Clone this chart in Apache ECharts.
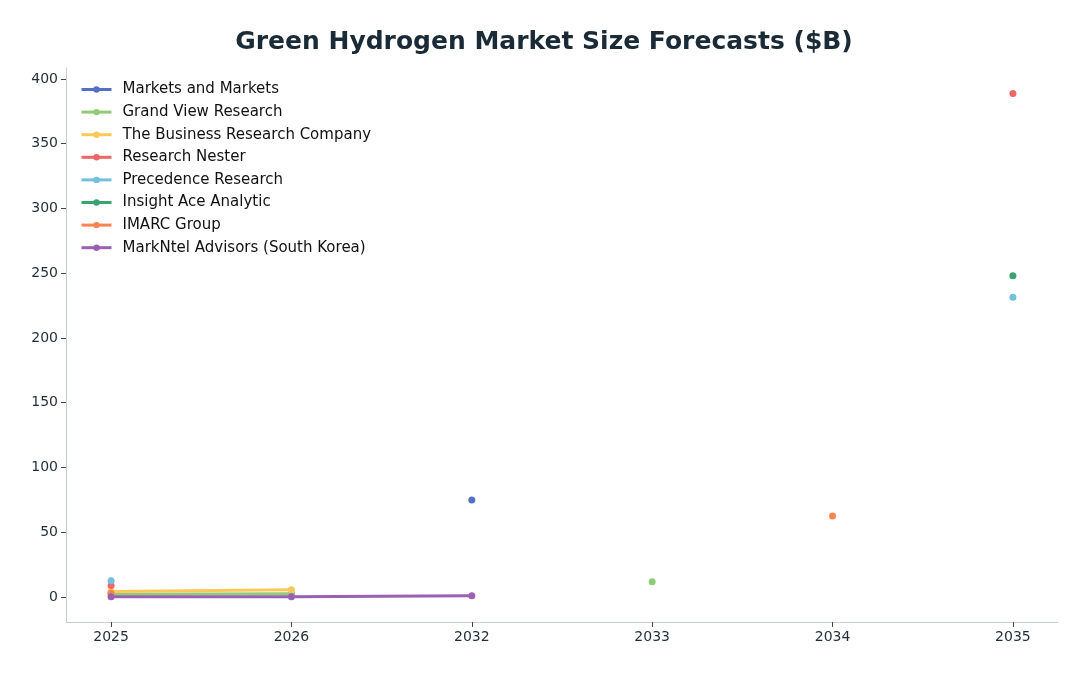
<!DOCTYPE html>
<html>
<head>
<meta charset="utf-8">
<script src="https://cdn.jsdelivr.net/npm/echarts@6/dist/echarts.min.js"></script>
<style>
  html, body { margin: 0; padding: 0; background: #fff; }
  #chart { width: 1088px; height: 676px; }
</style>
</head>
<body>
<div id="chart"></div>
<script>
// 年份（x 轴按序号排布）
var years = ['2025', '2026', '2032', '2033', '2034', '2035'];
var yTicks = [0, 50, 100, 150, 200, 250, 300, 350, 400];

// 各机构预测值（$B），null 表示无数据
var marketsAndMarkets = [null, null, 74.8, null, null, null];
var grandView = [2.0, 2.4, null, 11.6, null, null];
var businessResearch = [4.1, 5.5, null, null, null, null];
var researchNester = [8.8, null, null, null, null, 388.8];
var precedence = [12.5, null, null, null, null, 231.5];
var insightAce = [null, null, null, null, null, 248.0];
var imarc = [2.8, null, null, null, 62.5, null];
var markNtel = [0.1, 0.1, 0.9, null, null, null];

var seriesNames = [
  'Markets and Markets',
  'Grand View Research',
  'The Business Research Company',
  'Research Nester',
  'Precedence Research',
  'Insight Ace Analytic',
  'IMARC Group',
  'MarkNtel Advisors (South Korea)'
];
var seriesValues = [marketsAndMarkets, grandView, businessResearch, researchNester,
  precedence, insightAce, imarc, markNtel];
var colors = ['#5470c6', '#91cc75', '#fac858', '#ee6666', '#73c0de', '#3ba272', '#fc8452', '#9a60b4'];

var chart = echarts.init(document.getElementById('chart'));

function toPoints(values) {
  return values.map(function (v, i) { return [i, v]; });
}

var series = seriesNames.map(function (name, k) {
  return {
    name: name,
    type: 'line',
    data: toPoints(seriesValues[k]),
    connectNulls: false,
    symbol: 'circle',
    symbolSize: 7,
    showSymbol: true,
    lineStyle: { width: 3, color: colors[k] },
    itemStyle: { color: colors[k] },
    emphasis: { disabled: true },
    animation: false
  };
});

var option = {
  backgroundColor: '#ffffff',
  color: colors,
  title: {
    text: 'Green Hydrogen Market Size Forecasts ($B)',
    left: 'center',
    top: 25,
    textStyle: {
      fontFamily: 'DejaVu Sans',
      fontSize: 25,
      fontWeight: 'bold',
      color: '#1a2a36'
    }
  },
  legend: {
    orient: 'vertical',
    left: 80,
    top: 82,
    padding: 0,
    itemWidth: 30,
    itemHeight: 8,
    itemGap: 7.6,
    data: seriesNames,
    lineStyle: { width: 3 },
    textStyle: {
      fontFamily: 'DejaVu Sans',
      fontSize: 15,
      color: '#111',
      padding: [0, 0, 0, 6]
    }
  },
  grid: { left: 66, right: 30, top: 68, bottom: 54 },
  xAxis: {
    type: 'value',
    min: -0.25,
    max: 5.25,
    splitLine: { show: false },
    axisLine: { show: true, onZero: false, lineStyle: { color: '#c8cdd2', width: 1 } },
    axisTick: {
      show: true,
      customValues: [0, 1, 2, 3, 4, 5],
      length: 5,
      lineStyle: { color: '#444' }
    },
    axisLabel: {
      customValues: [0, 1, 2, 3, 4, 5],
      formatter: function (v) { return years[Math.round(v)]; },
      margin: 8,
      fontFamily: 'DejaVu Sans',
      fontSize: 14,
      color: '#1f2d3a'
    }
  },
  yAxis: {
    type: 'value',
    min: -19.4,
    max: 408.5,
    splitLine: { show: false },
    axisLine: { show: true, onZero: false, lineStyle: { color: '#c8cdd2', width: 1 } },
    axisTick: {
      show: true,
      customValues: yTicks,
      length: 5,
      lineStyle: { color: '#444' }
    },
    axisLabel: {
      customValues: yTicks,
      margin: 8,
      fontFamily: 'DejaVu Sans',
      fontSize: 14,
      color: '#1f2d3a'
    }
  },
  series: series
};

chart.setOption(option);
</script>
</body>
</html>
